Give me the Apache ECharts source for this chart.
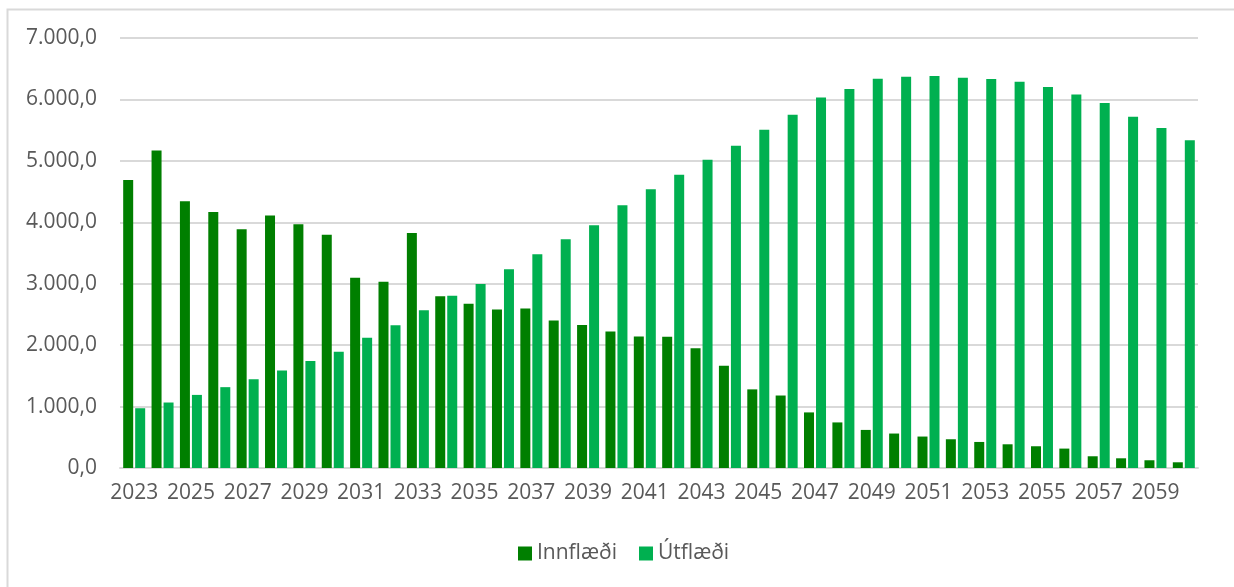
<!DOCTYPE html>
<html>
<head>
<meta charset="utf-8">
<script src="https://cdn.jsdelivr.net/npm/echarts@6/dist/echarts.min.js"></script>
<style>
  html, body { margin: 0; padding: 0; background: #fff; }
  #main { width: 1234px; height: 587px; }
</style>
</head>
<body>
<div id="main"></div>
<script>
const years = [
  "2023", "2024", "2025", "2026", "2027", "2028", "2029", "2030", "2031", "2032",
  "2033", "2034", "2035", "2036", "2037", "2038", "2039", "2040", "2041", "2042",
  "2043", "2044", "2045", "2046", "2047", "2048", "2049", "2050", "2051", "2052",
  "2053", "2054", "2055", "2056", "2057", "2058", "2059", "2060",
];
const innflaedi = [
  4690, 5168, 4343, 4169, 3886, 4109, 3968, 3799, 3098, 3033,
  3826, 2794, 2674, 2582, 2598, 2403, 2326, 2224, 2142, 2136,
  1951, 1666, 1280, 1180, 905, 742, 620, 561, 512, 468,
  424, 386, 354, 316, 191, 158, 126, 93,
];
const utflaedi = [
  973, 1066, 1190, 1316, 1446, 1588, 1740, 1891, 2120, 2322,
  2566, 2804, 2995, 3234, 3479, 3723, 3952, 4278, 4538, 4772,
  5016, 5245, 5505, 5750, 6032, 6169, 6337, 6369, 6380, 6353,
  6331, 6288, 6201, 6081, 5940, 5717, 5533, 5337,
];
const yTicks = [0, 1000, 2000, 3000, 4000, 5000, 6000, 7000];

const fontFamily = "'Open Sans', 'Noto Sans', sans-serif";
const textColor = "#595959";
const gridColor = "#d9d9d9";

// 7000 -> "7.000,0"
const fmt = (v) => {
  const whole = Math.round(v).toString().replace(/\B(?=(\d{3})+(?!\d))/g, ".");
  return whole + ",0";
};

const chart = echarts.init(document.getElementById("main"));

chart.setOption({
  animation: false,
  color: ["#007f00", "#00b050"],
  graphic: [
    {
      type: "rect",
      shape: { x: 7.5, y: 9.5, width: 1400, height: 800 },
      style: { fill: "none", stroke: gridColor, lineWidth: 2 },
      silent: true,
    },
  ],
  grid: { left: 120, right: 36, top: 38, bottom: 119 },
  legend: {
    data: ["Innflæði", "Útflæði"],
    left: 516,
    top: 541,
    padding: 2,
    icon: "rect",
    itemWidth: 14,
    itemHeight: 14,
    itemGap: 22,
    textStyle: { fontFamily, fontSize: 21, color: textColor },
  },
  xAxis: {
    type: "category",
    data: years,
    axisTick: { show: false },
    axisLine: { lineStyle: { color: gridColor, width: 2 } },
    axisLabel: {
      interval: 1,
      margin: 15,
      fontFamily,
      fontSize: 21,
      color: textColor,
    },
  },
  yAxis: {
    type: "value",
    min: yTicks[0],
    max: yTicks[yTicks.length - 1],
    interval: 1000,
    axisLine: { show: false },
    axisTick: { show: false },
    splitLine: { lineStyle: { color: gridColor, width: 2 } },
    axisLabel: {
      margin: 23,
      fontFamily,
      fontSize: 21,
      color: textColor,
      formatter: fmt,
    },
  },
  series: [
    {
      name: "Innflæði",
      type: "bar",
      data: innflaedi,
      barWidth: 10,
      barGap: "20%",
    },
    {
      name: "Útflæði",
      type: "bar",
      data: utflaedi,
      barWidth: 10,
    },
  ],
});
</script>
</body>
</html>
